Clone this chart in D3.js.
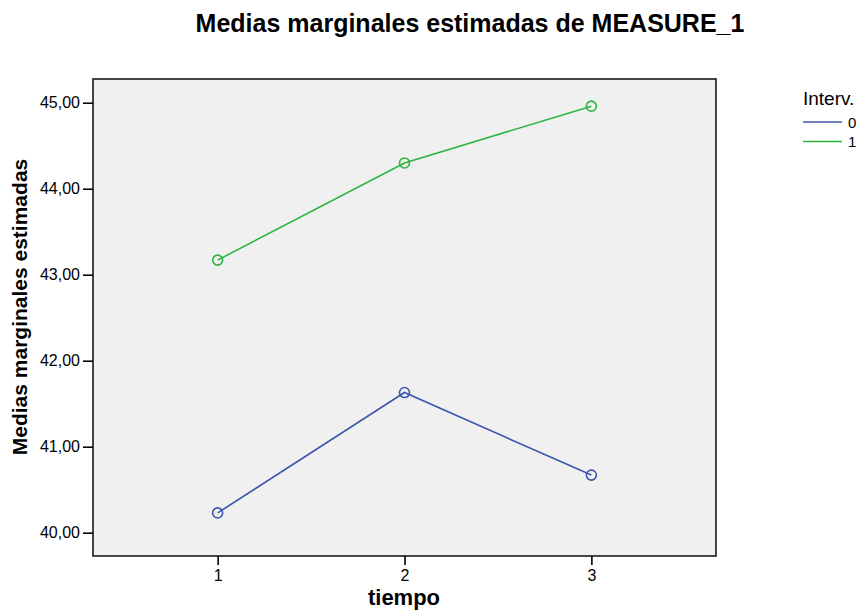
<!DOCTYPE html>
<html>
<head>
<meta charset="utf-8">
<script src="https://cdn.jsdelivr.net/npm/d3@7"></script>
<style>
  body { margin: 0; background: #fff; }
  svg { display: block; font-family: "Liberation Sans", Arial, sans-serif; }
</style>
</head>
<body>
<svg id="chart" width="864" height="614"></svg>
<script>
// Estimated marginal means by time point, one series per group
const tiempo = [1, 2, 3];
const interv0 = [40.23, 41.63, 40.67];
const interv1 = [43.17, 44.30, 44.96];
const yTicks = [40, 41, 42, 43, 44, 45];
const groups = ["0", "1"];
const colors = ["#3d56ad", "#2bb540"];

const svg = d3.select("#chart");
const plotL = 93, plotR = 716, plotT = 79, plotB = 556;

const x = d3.scaleLinear().domain([0.333, 3.667]).range([plotL, plotR]);
const y = d3.scaleLinear().domain([39.729, 45.276]).range([plotB, plotT]);

// plot background and frame
svg.append("rect")
  .attr("x", plotL).attr("y", plotT)
  .attr("width", plotR - plotL).attr("height", plotB - plotT)
  .attr("fill", "#f0f0f0")
  .attr("stroke", "#1a1a1a").attr("stroke-width", 1.6);

const fmt = d => d.toFixed(2).replace(".", ",");

const yAxis = svg.append("g")
  .attr("transform", `translate(${plotL},0)`)
  .call(d3.axisLeft(y).tickValues(yTicks).tickFormat(fmt).tickSize(10).tickPadding(3));
const xAxis = svg.append("g")
  .attr("transform", `translate(0,${plotB})`)
  .call(d3.axisBottom(x).tickValues(tiempo).tickFormat(d3.format("d")).tickSize(9).tickPadding(5));

[yAxis, xAxis].forEach(g => {
  g.select(".domain").remove();
  g.selectAll(".tick line").attr("stroke", "#000").attr("stroke-width", 1.6);
  g.selectAll(".tick text")
    .attr("fill", "#000")
    .style("font-size", "16px")
    .style("font-family", "'Liberation Sans', Arial, sans-serif");
});

// series lines and circle markers
const series = [interv0, interv1];
const line = d3.line().x((d, i) => x(tiempo[i])).y(d => y(d));
series.forEach((vals, k) => {
  svg.append("path")
    .datum(vals)
    .attr("d", line)
    .attr("fill", "none")
    .attr("stroke", colors[k])
    .attr("stroke-width", 1.6);
  svg.selectAll(null)
    .data(vals)
    .enter().append("circle")
    .attr("cx", (d, i) => x(tiempo[i]))
    .attr("cy", d => y(d))
    .attr("r", 5)
    .attr("fill", "none")
    .attr("stroke", colors[k])
    .attr("stroke-width", 1.6);
});

// titles
svg.append("text")
  .attr("x", 470).attr("y", 32)
  .attr("text-anchor", "middle")
  .style("font-size", "25px").style("font-weight", "bold")
  .text("Medias marginales estimadas de MEASURE_1");

svg.append("text")
  .attr("x", 404).attr("y", 605)
  .attr("text-anchor", "middle")
  .style("font-size", "22px").style("font-weight", "bold")
  .text("tiempo");

svg.append("text")
  .attr("transform", "translate(27,307) rotate(-90)")
  .attr("text-anchor", "middle")
  .style("font-size", "21px").style("font-weight", "bold")
  .text("Medias marginales estimadas");

// legend
const legend = svg.append("g");
legend.append("text")
  .attr("x", 803).attr("y", 105)
  .style("font-size", "19px")
  .text("Interv.");
groups.forEach((g, k) => {
  const ly = 122 + k * 19.5;
  legend.append("line")
    .attr("x1", 803).attr("x2", 842)
    .attr("y1", ly).attr("y2", ly)
    .attr("stroke", colors[k]).attr("stroke-width", 1.6);
  legend.append("text")
    .attr("x", 848).attr("y", ly + 5.5)
    .style("font-size", "15px")
    .text(g);
});
</script>
</body>
</html>
